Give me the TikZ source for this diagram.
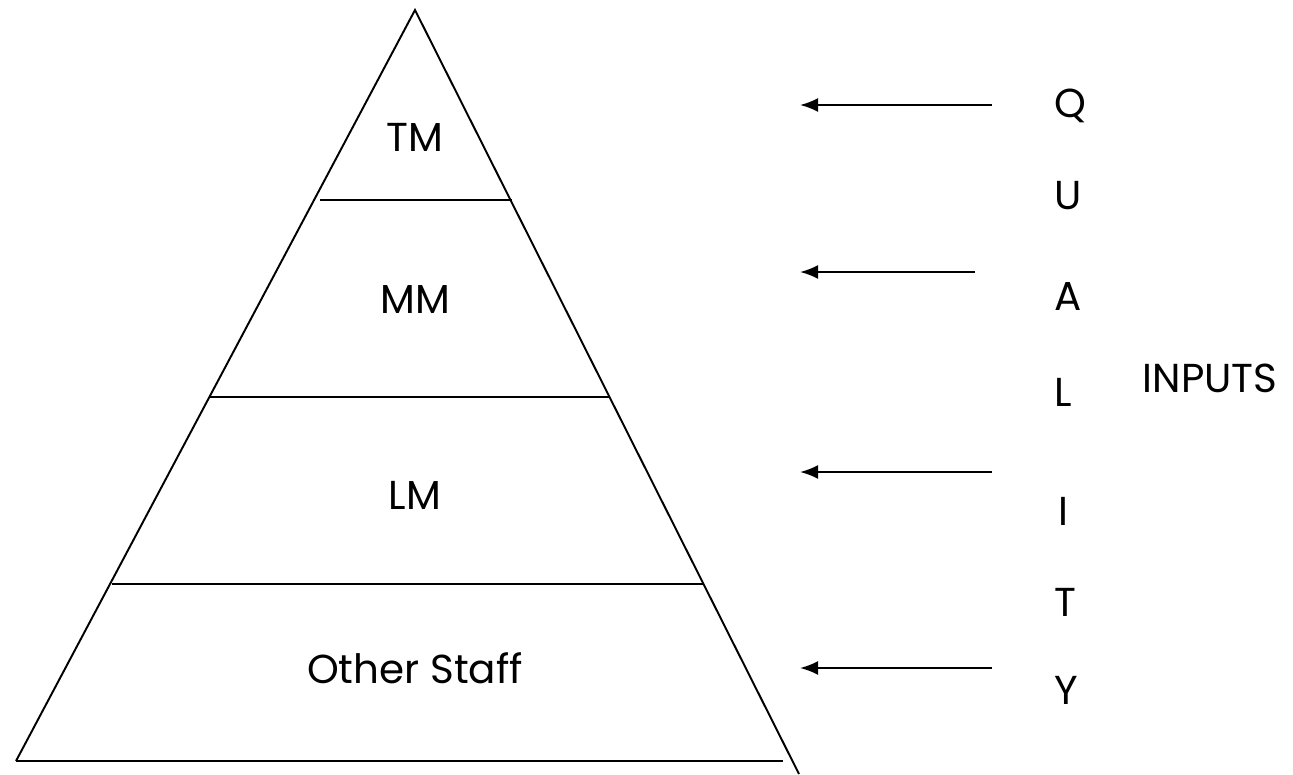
\documentclass[tikz,border=0pt]{standalone}
\usepackage{fontspec}
\setmainfont{Poppins}
\usetikzlibrary{arrows.meta,positioning}
\definecolor{PyrInk}{RGB}{0,0,0}
\tikzset{
  pyr/edge/.style={draw=PyrInk, line width=1.1pt, line join=miter},
  pyr/level/.style={draw=PyrInk, line width=1.6pt},
  pyr/label/.style={font=\fontsize{23}{27}\selectfont, text=PyrInk, inner sep=0pt},
  pyr/letter/.style={pyr/label, anchor=west},
  pyr/arrow/.style={-{Latex[length=0.36cm,width=0.28cm]}, line width=1.2pt, draw=PyrInk}
}
\begin{document}
\begin{tikzpicture}[x=0.02cm,y=-0.02cm]
  \useasboundingbox (0,0) rectangle (1293,774);
  % pyramid outline
  \coordinate (apex) at (415,10);
  \coordinate (baseL) at (16,761);
  \coordinate (baseR) at (799,774);
  \draw[pyr/edge] (baseL) -- (apex) -- (baseR);
  \draw[pyr/level] (320,200) -- (512,200);
  \draw[pyr/level] (210,397) -- (610,397);
  \draw[pyr/level] (112,584) -- (703,584);
  \draw[pyr/level] (16,761) -- (783,761);
  % levels
  \node[pyr/label] (tm) at (415,137) {TM};
  \node[pyr/label] (mm) at (415,300) {MM};
  \node[pyr/label] (lm) at (415,495) {LM};
  \node[pyr/label] (staff) at (415,668) {Other Staff};
  % quality column
  \node[pyr/letter] (q) at (1054,106) {Q};
  \node[pyr/letter] (u) at (1054,196) {U};
  \node[pyr/letter] (a) at (1054,296) {A};
  \node[pyr/letter] (l) at (1054,392) {L};
  \node[pyr/letter] (i) at (1058,511) {I};
  \node[pyr/letter] (t) at (1054,602) {T};
  \node[pyr/letter] (y) at (1054,690) {Y};
  \node[pyr/label] (inputs) at (1210,378) {INPUTS};
  % input arrows
  \coordinate (in1) at (992,105);  \coordinate (to1) at (800,105);
  \coordinate (in2) at (975,272);  \coordinate (to2) at (800,272);
  \coordinate (in3) at (992,472);  \coordinate (to3) at (800,472);
  \coordinate (in4) at (992,668);  \coordinate (to4) at (800,668);
  \draw[pyr/arrow] (in1) -- (to1);
  \draw[pyr/arrow] (in2) -- (to2);
  \draw[pyr/arrow] (in3) -- (to3);
  \draw[pyr/arrow] (in4) -- (to4);
\end{tikzpicture}
\end{document}
